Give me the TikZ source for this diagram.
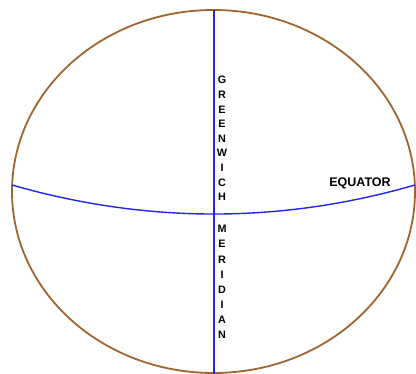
\documentclass[tikz,border=0pt]{standalone}
\usepackage{fontspec}
\setmainfont{Liberation Sans}
\usetikzlibrary{shapes.geometric,positioning}
\definecolor{globebrown}{HTML}{A0652E}
\definecolor{lineblue}{HTML}{2424F0}

\begin{document}
\begin{tikzpicture}[
  x=1pt,y=-1pt,
  globe/.style={ellipse,draw=globebrown,line width=1.8pt,inner sep=0pt,
    minimum width=403pt,minimum height=363pt},
  gridline/.style={draw=lineblue,line width=1.4pt},
  stacked/.style={align=center,inner sep=0pt,
    font=\bfseries\fontsize{10.8}{14.6}\selectfont},
  tagtext/.style={inner sep=0pt,font=\bfseries\fontsize{12.5}{14}\selectfont}
]
\useasboundingbox (0,0) rectangle (416,374);
\node[globe] (earth) at (213.5,191.5) {};
% pole and equator end points on the rim
\coordinate (npole) at (214,10);
\coordinate (spole) at (214,374);
\coordinate (eqwest) at (12,185);
\coordinate (eqeast) at (415,185);
\draw[gridline] (npole) -- (spole);
\draw[gridline] (eqwest) .. controls (146.7,223.7) and (281,223.7) .. (eqeast);
\node[stacked] (greenwich) at (222,138.5) {G\\R\\E\\E\\N\\W\\I\\C\\H};
\node[stacked,font=\bfseries\fontsize{10.8}{15.1}\selectfont]
  (meridian) at (222,282) {M\\E\\R\\I\\D\\I\\A\\N};
\node[tagtext] (equator) at (360,183.5) {EQUATOR};
\end{tikzpicture}
\end{document}
